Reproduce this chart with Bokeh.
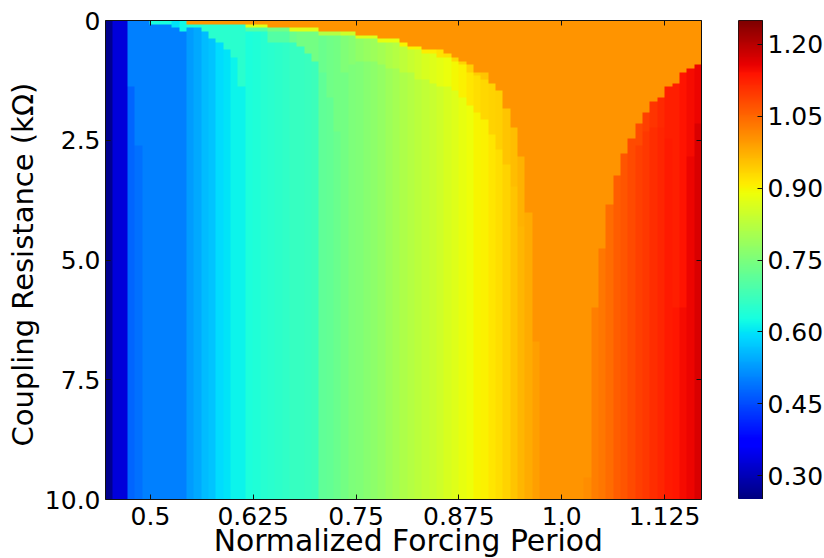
import numpy as np
from bokeh.embed import file_html
from bokeh.layouts import row
from bokeh.models import FixedTicker, LinearAxis, LinearColorMapper, Range1d
from bokeh.plotting import figure
from bokeh.resources import INLINE

# Axis ranges and ticks
x_min, x_max = 0.4454, 1.1699
r_max = 10.0
v_min, v_max = 0.25, 1.25
n_rows = 130
x_ticks = [0.5, 0.625, 0.75, 0.875, 1.0, 1.125]
x_labels = ["0.5", "0.625", "0.75", "0.875", "1.0", "1.125"]
y_ticks = [0, 2.5, 5, 7.5, 10]
y_labels = ["0", "2.5", "5.0", "7.5", "10.0"]
c_ticks = [0.30, 0.45, 0.60, 0.75, 0.90, 1.05, 1.20]
c_labels = ["0.30", "0.45", "0.60", "0.75", "0.90", "1.05", "1.20"]
x_title = "\u00a0Normalized Forcing Period"
y_title = "Coupling Resistance (k\u03a9)\u00a0"
locked_val = 1.0

# Value of each period column at large coupling resistance
lower_val = [.265, .33, .33, .475, .485, .50, .50, .50, .50, .50, .50,
             .53, .54, .56, .57, .59, .60, .615, .615,
             .635, .64, .645, .65, .655, .66, .665, .665, .67, .675,
             .715, .72, .73, .74, .75, .755, .765, .77, .78, .79, .80, .81,
             .82, .825, .835, .84, .85, .86, .87, .88, .89, .90, .905, .915, .925,
             .935, .952, .966, .978, .99,
             1, 1, 1, 1, 1, 1,
             1.01, 1.025, 1.035, 1.045, 1.06, 1.07, 1.08, 1.09, 1.10, 1.11, 1.12,
             1.13, 1.135, 1.145, 1.155, 1.168]
# Resistance below which each column is locked at the orange value
lock_R = [0, 0, 0, 0, 0, 0, 0, 0, 0, 0, 0,
          .10, .10, .10, .10, .10, .10, .10, .10, .10, .10, .10,
          .17, .17, .17, .17, .17, .17, .17,
          .25, .25, .25, .25, .25,
          .32, .32, .32, .40, .42, .42, .48, .54, .54, .63, .63, .65, .71, .79, .88, .96,
          1.04, 1.11, 1.34, 1.50, 1.82, 2.21, 2.84, 4.01, 6.66,
          10, 10, 10, 10, 10, 10,
          9.56, 6.03, 4.78, 3.84, 3.24, 2.76, 2.44, 2.13, 1.90, 1.73, 1.59, 1.42, 1.27,
          1.11, 1.02, .96]
# Thin band directly under the locked region
band_R = [0] * 19 + [.17, .17, .17, .25, .25, .25, .25, .25, .25, .25,
                     .31, .31, .31, .31, .31, .40, .40, .40, .50, .50, .50,
                     .55, .62, .62, .70, .70, .75, .80, .88, .96, 1.05,
                     1.15, 1.25, 0, 0, 0, 0, 0, 0, 0] + [0] * 22
band_val = [0] * 19 + [.87, .87, .87, .74, .74, .74, .87, .87, .87, .87,
                       .82, .82, .82, .85, .85, .87, .87, .87, .88, .88, .88,
                       .90, .90, .90, .91, .91, .92, .925, .93, .935, .94,
                       .945, .95, 0, 0, 0, 0, 0, 0, 0] + [0] * 22
# Second step inside each column
mid_R = [0, 0, 0, 1.42, 2.61, 0, .09, .09, .09, .17, .25,
         .17, .17, .25, .40, .48, .64, .79, 1.42,
         .25, .25, .25, .50, .50, .50, .46, .56, .70, .88,
         1.11, 1.59, 2.30, 1.05, .95, .85, .85, .85, .95, 1.0, 1.0, 1.1,
         1.1, 1.2, 1.2, 1.3, 1.35, 1.4, 1.5, 1.6, 1.75, 1.9, 2.1, 2.4, 2.7,
         3.0, 3.5, 4.3, 5.5, 0,
         0, 0, 0, 0, 0, 0,
         0, 0, 0, 0, 0, 0, 0, 2.6, 2.3, 2.2, 2.2, 2.5, 6.03, 6.03, 2.83, 2.13]
upper_val = [.265, .33, .33, .50, .50, .50, .63, .63, .63, .60, .62,
             .64, .64, .65, .65, .65, .65, .65, .65,
             .70, .70, .70, .70, .70, .70, .73, .74, .74, .74,
             .73, .735, .74, .755, .765, .775, .785, .79, .80, .81, .82, .83,
             .84, .85, .86, .87, .875, .885, .895, .905, .915, .925, .93, .935, .94,
             .95, .96, .97, .98, .99,
             1, 1, 1, 1, 1, 1,
             1.01, 1.025, 1.035, 1.045, 1.06, 1.07, 1.08, 1.08, 1.09, 1.105, 1.115,
             1.125, 1.128, 1.138, 1.147, 1.155]


def jet(t):
    px = {"r": ([0, .35, .66, .89, 1], [0, 0, 1, 1, .5]),
          "g": ([0, .125, .375, .64, .91, 1], [0, 0, 1, 1, 0, 0]),
          "b": ([0, .11, .34, .65, 1], [.5, 1, 1, 0, 0])}
    return "#%02x%02x%02x" % tuple(int(round(255 * np.interp(t, *px[c]))) for c in "rgb")


palette = [jet(i / 255) for i in range(256)]
mapper = LinearColorMapper(palette=palette, low=v_min, high=v_max)

n_cols = len(lower_val)
for arr in (lock_R, band_R, band_val, mid_R, upper_val):
    assert len(arr) == n_cols, len(arr)

grid = np.zeros((n_rows, n_cols))
for i in range(n_rows):
    r = (i + 0.5) * r_max / n_rows
    for j in range(n_cols):
        if r < lock_R[j]:
            grid[i, j] = locked_val
        elif r < band_R[j]:
            grid[i, j] = band_val[j]
        elif r < mid_R[j]:
            grid[i, j] = upper_val[j]
        else:
            grid[i, j] = lower_val[j]

FONT = "DejaVu Sans"
TICK = "25px"


def style(ax, ticks, labels=None, show=True, standoff=5):
    ax.ticker = FixedTicker(ticks=ticks)
    ax.major_tick_in = 5
    ax.major_tick_out = 0
    ax.minor_tick_line_color = None
    ax.axis_line_color = "#111111"
    ax.major_tick_line_color = "#111111"
    ax.major_label_text_font = FONT
    ax.major_label_text_color = "black"
    ax.major_label_standoff = standoff
    if show:
        ax.major_label_text_font_size = TICK
        ax.major_label_overrides = dict(zip(ticks, labels))
    else:
        ax.major_label_text_font_size = "0px"
        ax.major_label_text_color = None
        ax.major_label_standoff = 0


p = figure(frame_width=596, frame_height=479, output_backend="svg", toolbar_location=None,
           x_range=Range1d(x_min, x_max), y_range=Range1d(r_max, 0),
           min_border_left=105, min_border_right=19, min_border_top=20, min_border_bottom=0,
           outline_line_color=None)
p.grid.visible = False
p.image(image=[grid], x=x_min, y=0, dw=x_max - x_min, dh=r_max, color_mapper=mapper)
style(p.xaxis[0], x_ticks, x_labels, standoff=7)
style(p.yaxis[0], y_ticks, y_labels)
p.xaxis[0].axis_label = x_title
p.yaxis[0].axis_label = y_title
for ax in (p.xaxis[0], p.yaxis[0]):
    ax.axis_label_text_font = FONT
    ax.axis_label_text_font_style = "normal"
    ax.axis_label_text_color = "black"
p.xaxis[0].axis_label_text_font_size = "29.8px"
p.yaxis[0].axis_label_text_font_size = "29px"
p.xaxis[0].axis_label_standoff = -5
p.yaxis[0].axis_label_standoff = 2
top = LinearAxis()
right = LinearAxis()
style(top, x_ticks, show=False)
style(right, y_ticks, show=False)
p.add_layout(top, "above")
p.add_layout(right, "right")

cb = figure(frame_width=24, frame_height=479, output_backend="svg", toolbar_location=None,
            x_range=Range1d(0, 1), y_range=Range1d(v_min, v_max), y_axis_location="right",
            min_border_left=18, min_border_right=62, min_border_top=20, min_border_bottom=0,
            outline_line_color="#111111")
cb.grid.visible = False
cb.xaxis.visible = False
levels = np.linspace(v_min, v_max, 256).reshape(-1, 1)
cb.image(image=[levels], x=0, y=v_min, dw=1, dh=v_max - v_min, color_mapper=mapper)
style(cb.yaxis[0], c_ticks, c_labels)

layout = row(p, cb, spacing=0)
open("out.html", "w").write(file_html(layout, INLINE))
